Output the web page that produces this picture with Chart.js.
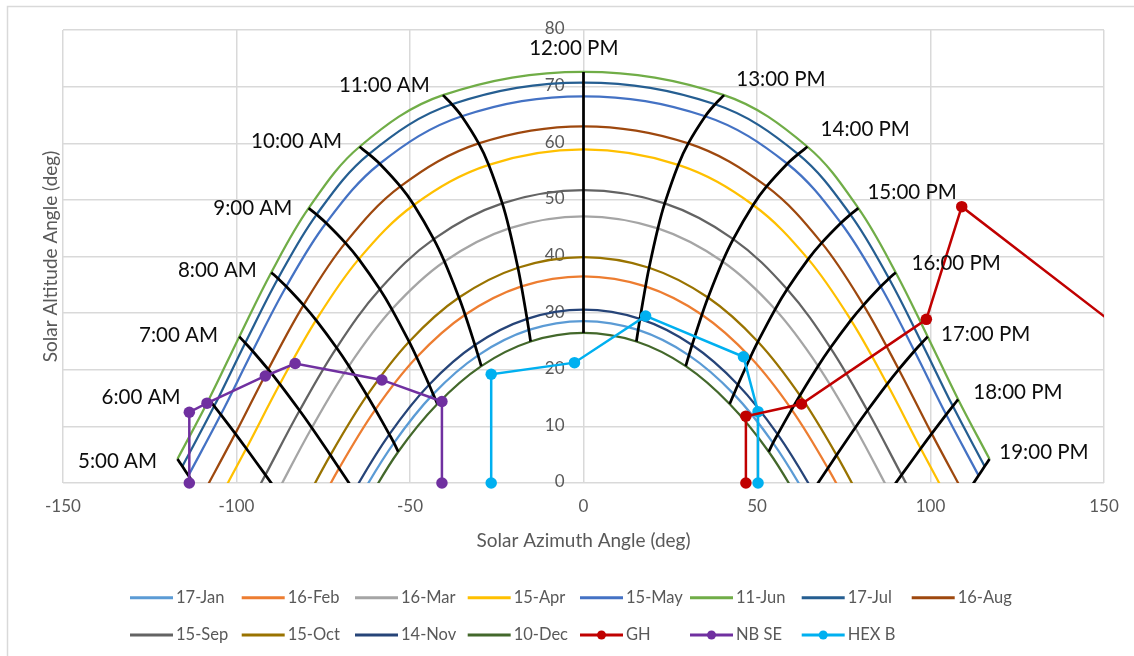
<!DOCTYPE html>
<html>
<head>
<meta charset="utf-8">
<title>Sun path diagram</title>
<script src="https://cdn.jsdelivr.net/npm/chart.js@4.4.1/dist/chart.umd.min.js"></script>
<style>
  html, body { margin: 0; padding: 0; background: #ffffff; }
  canvas { display: block; }
</style>
</head>
<body>
<canvas id="sunpath" width="1134" height="656"></canvas>
<script>
// Sun path: solar altitude vs azimuth for one characteristic day per month,
// hourly points from 5:00 to 19:00 (solar time), plus three obstruction profiles.

const dayNames  = ['17-Jan', '16-Feb', '16-Mar', '15-Apr', '15-May', '11-Jun',
                   '17-Jul', '16-Aug', '15-Sep', '15-Oct', '14-Nov', '10-Dec'];
const dayColors = ['#5B9BD5', '#ED7D31', '#A5A5A5', '#FFC000', '#4472C4', '#70AD47',
                   '#255E91', '#9E480E', '#636363', '#997300', '#264478', '#43682B'];

const hourNames = ['5:00 AM', '6:00 AM', '7:00 AM', '8:00 AM', '9:00 AM', '10:00 AM', '11:00 AM',
                   '12:00 PM', '13:00 PM', '14:00 PM', '15:00 PM', '16:00 PM', '17:00 PM',
                   '18:00 PM', '19:00 PM'];

// Azimuth (deg) and altitude (deg) at each hour 5:00 ... 19:00
const azJan  = [-82.78, -73.81, -64.61, -54.62, -43.33, -30.38, -15.75, 0, 15.75, 30.38, 43.33, 54.62, 64.61, 73.81, 82.78];
const altJan = [-24.55, -13.40, -2.74, 7.09, 15.70, 22.55, 27.03, 28.6, 27.03, 22.55, 15.70, 7.09, -2.74, -13.40, -24.55];
const azFeb  = [-89.56, -80.04, -70.42, -59.99, -48.09, -34.12, -17.87, 0, 17.87, 34.12, 48.09, 59.99, 70.42, 80.04, 89.56];
const altFeb = [-19.75, -8.40, 2.62, 12.97, 22.20, 29.71, 34.72, 36.5, 34.72, 29.71, 22.20, 12.97, 2.62, -8.40, -19.75];
const azMar  = [-98.03, -88.17, -78.30, -67.62, -55.22, -40.07, -21.44, 0, 21.44, 40.07, 55.22, 67.62, 78.30, 88.17, 98.03];
const altMar = [-12.93, -1.56, 9.76, 20.65, 30.67, 39.11, 44.96, 47.1, 44.96, 39.11, 30.67, 20.65, 9.76, -1.56, -12.93];
const azApr  = [-106.93, -97.18, -87.50, -77.07, -64.76, -48.88, -27.30, 0, 27.30, 48.88, 64.76, 77.07, 87.50, 97.18, 106.93];
const altApr = [-5.05, 6.09, 17.47, 28.76, 39.54, 49.09, 56.17, 58.9, 56.17, 49.09, 39.54, 28.76, 17.47, 6.09, -5.05];
const azMay  = [-113.85, -104.51, -95.37, -85.65, -74.18, -58.74, -35.09, 0, 35.09, 58.74, 74.18, 85.65, 95.37, 104.51, 113.85];
const altMay = [1.32, 12.08, 23.31, 34.70, 45.92, 56.38, 64.77, 68.3, 64.77, 56.38, 45.92, 34.70, 23.31, 12.08, 1.32];
const azJun  = [-117.01, -107.97, -99.19, -89.97, -79.20, -64.54, -40.51, 0, 40.51, 64.54, 79.20, 89.97, 99.19, 107.97, 117.01];
const altJun = [4.23, 14.76, 25.84, 37.19, 48.54, 59.38, 68.50, 72.6, 68.50, 59.38, 48.54, 37.19, 25.84, 14.76, 4.23];
const azJul  = [-115.61, -106.43, -97.48, -88.03, -76.92, -61.85, -37.91, 0, 37.91, 61.85, 76.92, 88.03, 97.48, 106.43, 115.61];
const altJul = [2.94, 13.58, 24.73, 36.11, 47.41, 58.08, 66.88, 70.7, 66.88, 58.08, 47.41, 36.11, 24.73, 13.58, 2.94];
const azAug  = [-109.95, -100.35, -90.86, -80.68, -68.63, -52.77, -30.20, 0, 30.20, 52.77, 68.63, 80.68, 90.86, 100.35, 109.95];
const altAug = [-2.28, 8.72, 20.06, 31.42, 42.41, 52.37, 59.98, 63.0, 59.98, 52.37, 42.41, 31.42, 20.06, 8.72, -2.28];
const azSep  = [-101.54, -91.67, -81.82, -71.16, -58.69, -43.16, -23.40, 0, 23.40, 43.16, 58.69, 71.16, 81.82, 91.67, 101.54];
const altSep = [-9.89, 1.43, 12.80, 23.88, 34.21, 43.08, 49.37, 51.7, 49.37, 43.08, 34.21, 23.88, 12.80, 1.43, -9.89];
const azOct  = [-92.34, -82.67, -72.93, -62.37, -50.26, -35.89, -18.90, 0, 18.90, 35.89, 50.26, 62.37, 72.93, 82.67, 92.34];
const altOct = [-17.60, -6.22, 4.92, 15.46, 24.95, 32.75, 38.02, 39.9, 38.02, 32.75, 24.95, 15.46, 4.92, -6.22, -17.60];
const azNov  = [-84.54, -75.41, -66.08, -55.96, -44.50, -31.29, -16.26, 0, 16.26, 31.29, 44.50, 55.96, 66.08, 75.41, 84.54];
const altNov = [-23.37, -12.14, -1.39, 8.59, 17.36, 24.37, 28.98, 30.6, 28.98, 24.37, 17.36, 8.59, -1.39, -12.14, -23.37];
const azDec  = [-80.90, -72.11, -63.06, -53.39, -42.12, -29.46, -15.24, 0, 15.24, 29.46, 42.12, 53.39, 63.06, 72.11, 80.90];
const altDec = [-25.78, -14.70, -4.16, 5.52, 13.96, 20.64, 24.98, 26.5, 24.98, 20.64, 13.96, 5.52, -4.16, -14.70, -25.78];

const dayAz  = [azJan, azFeb, azMar, azApr, azMay, azJun, azJul, azAug, azSep, azOct, azNov, azDec];
const dayAlt = [altJan, altFeb, altMar, altApr, altMay, altJun, altJul, altAug, altSep, altOct, altNov, altDec];

// Days from the highest to the lowest path, used to join the hour lines
const hourLineDayOrder = [5, 6, 4, 7, 3, 8, 2, 9, 1, 10, 0, 11];

// Obstruction profiles (azimuth, altitude)
const ghAz   = [46.8, 46.8, 62.8, 98.8, 109.0, 180.0];
const ghAlt  = [0, 11.8, 13.95, 28.9, 48.8, 15.3];
const nbseAz  = [-113.6, -113.6, -108.5, -91.7, -83.1, -58.1, -40.8, -40.8];
const nbseAlt = [0, 12.5, 14.1, 18.9, 21.1, 18.2, 14.4, 0];
const hexbAz  = [-26.6, -26.6, -2.6, 17.9, 46.1, 50.3, 50.3];
const hexbAlt = [0, 19.2, 21.25, 29.5, 22.3, 12.6, 0];

// Where each hour name is written (azimuth, altitude of the text centre)
const hourLabelAz  = [-134.3, -127.5, -116.7, -105.5, -95.3, -82.7, -57.4, -2.8, 56.9, 81.2, 94.7, 107.4, 115.9, 125.2, 132.7];
const hourLabelAlt = [3.9, 15.1, 26.0, 37.6, 48.5, 60.4, 70.3, 76.8, 71.2, 62.5, 51.4, 38.7, 26.3, 16.0, 5.35];

const toPoints = (xs, ys) => xs.map((x, i) => ({ x: x, y: ys[i] }));

const FONT = 'Lato, "Liberation Sans", Arial, sans-serif';
const GREY_TEXT = '#595959';
const GRID = '#D9D9D9';

const datasets = [];

dayNames.forEach((name, d) => {
  datasets.push({
    label: name,
    data: toPoints(dayAz[d], dayAlt[d]),
    showLine: true,
    borderColor: dayColors[d],
    backgroundColor: dayColors[d],
    borderWidth: 2.25,
    pointRadius: 0,
    tension: 0.36,
    clip: 0,
    order: 3,
    legendItem: true
  });
});

const profiles = [
  { label: 'GH',    xs: ghAz,   ys: ghAlt,   color: '#C00000' },
  { label: 'NB SE', xs: nbseAz, ys: nbseAlt, color: '#7030A0' },
  { label: 'HEX B', xs: hexbAz, ys: hexbAlt, color: '#00B0F0' }
];
profiles.forEach(p => {
  datasets.push({
    label: p.label,
    data: toPoints(p.xs, p.ys),
    showLine: true,
    borderColor: p.color,
    backgroundColor: p.color,
    borderWidth: 2.5,
    pointRadius: 5.75,
    pointBorderWidth: 0,
    pointStyle: 'circle',
    tension: 0,
    clip: { left: 10, top: 10, right: 0, bottom: 10 },
    order: 1,
    legendItem: true,
    withMarker: true
  });
});

hourNames.forEach((name, h) => {
  const xs = hourLineDayOrder.map(d => dayAz[d][h]);
  const ys = hourLineDayOrder.map(d => dayAlt[d][h]);
  datasets.push({
    label: name,
    data: toPoints(xs, ys),
    showLine: true,
    borderColor: '#000000',
    backgroundColor: '#000000',
    borderWidth: 2.75,
    pointRadius: 0,
    tension: 0.36,
    clip: 0,
    order: 2,
    legendItem: false
  });
});

// White page with the light outer frame
const framePlugin = {
  id: 'frame',
  beforeDraw(chart) {
    const ctx = chart.ctx;
    ctx.save();
    ctx.fillStyle = '#ffffff';
    ctx.fillRect(0, 0, chart.width, chart.height);
    ctx.strokeStyle = GRID;
    ctx.lineWidth = 1.5;
    ctx.strokeRect(7.5, 6.5, chart.width + 10, chart.height + 10);
    ctx.restore();
  }
};

// Altitude tick labels, written just left of the vertical axis that crosses at azimuth 0
const yTickPlugin = {
  id: 'yTickLabels',
  beforeDatasetsDraw(chart) {
    const { ctx, scales: { x, y } } = chart;
    const right = x.getPixelForValue(0) - 19;
    ctx.save();
    ctx.font = '17px ' + FONT;
    ctx.fillStyle = GREY_TEXT;
    ctx.textAlign = 'right';
    ctx.textBaseline = 'middle';
    y.ticks.forEach(t => {
      ctx.fillText(String(t.value), right, y.getPixelForValue(t.value) - 1);
    });
    ctx.restore();
  }
};

// Hour names beside the hour lines
const hourLabelPlugin = {
  id: 'hourLabels',
  afterDatasetsDraw(chart) {
    const { ctx, scales: { x, y } } = chart;
    ctx.save();
    ctx.font = '20.5px ' + FONT;
    ctx.fillStyle = '#0D0D0D';
    ctx.textAlign = 'center';
    ctx.textBaseline = 'middle';
    hourNames.forEach((name, i) => {
      ctx.fillText(name, x.getPixelForValue(hourLabelAz[i]), y.getPixelForValue(hourLabelAlt[i]));
    });
    ctx.restore();
  }
};

// Vertical axis title, kept at the left edge of the plot
const yTitlePlugin = {
  id: 'yTitle',
  afterDraw(chart) {
    const { ctx, chartArea } = chart;
    ctx.save();
    ctx.translate(chartArea.left - 12, (chartArea.top + chartArea.bottom) / 2);
    ctx.rotate(-Math.PI / 2);
    ctx.font = '19px ' + FONT;
    ctx.fillStyle = GREY_TEXT;
    ctx.textAlign = 'center';
    ctx.textBaseline = 'middle';
    ctx.fillText('Solar Altitude Angle (deg)', 0, 0);
    ctx.restore();
  }
};

// Two-row legend laid out in fixed columns
const legendCols = [130, 241.7, 355, 467.7, 580, 690, 801.7, 911.7];
const legendRows = [597.7, 635];
const legendPlugin = {
  id: 'gridLegend',
  afterDraw(chart) {
    const ctx = chart.ctx;
    const items = chart.data.datasets.filter(ds => ds.legendItem);
    ctx.save();
    ctx.font = '16.5px ' + FONT;
    ctx.textAlign = 'left';
    ctx.textBaseline = 'middle';
    items.forEach((ds, k) => {
      const x0 = legendCols[k % legendCols.length];
      const y0 = legendRows[Math.floor(k / legendCols.length)];
      ctx.strokeStyle = ds.borderColor;
      ctx.lineWidth = 3;
      ctx.lineCap = 'butt';
      ctx.beginPath();
      ctx.moveTo(x0, y0);
      ctx.lineTo(x0 + 43, y0);
      ctx.stroke();
      if (ds.withMarker) {
        ctx.fillStyle = ds.backgroundColor;
        ctx.beginPath();
        ctx.arc(x0 + 21.5, y0, 4.5, 0, Math.PI * 2);
        ctx.fill();
      }
      ctx.fillStyle = GREY_TEXT;
      ctx.fillText(ds.label, x0 + 46, y0);
    });
    ctx.restore();
  }
};

new Chart(document.getElementById('sunpath'), {
  type: 'scatter',
  data: { datasets: datasets },
  options: {
    responsive: false,
    animation: false,
    devicePixelRatio: 1,
    events: [],
    layout: { padding: { left: 63, right: 30, top: 30, bottom: 104 } },
    plugins: {
      legend: { display: false },
      tooltip: { enabled: false },
      title: { display: false }
    },
    elements: { line: { capBezierPoints: false } },
    scales: {
      x: {
        type: 'linear',
        position: 'bottom',
        min: -150,
        max: 150,
        ticks: { stepSize: 50, color: GREY_TEXT, font: { family: FONT, size: 17 }, padding: 13, maxRotation: 0 },
        grid: { color: GRID, lineWidth: 1.5, drawTicks: false },
        border: { display: false },
        title: {
          display: true,
          text: 'Solar Azimuth Angle (deg)',
          color: GREY_TEXT,
          font: { family: FONT, size: 19 },
          padding: 0
        },
        afterFit(scale) { scale.height = 69; }
      },
      y: {
        type: 'linear',
        position: { x: 0 },
        min: 0,
        max: 80,
        ticks: { stepSize: 10, display: false },
        grid: { color: GRID, lineWidth: 1.5, drawTicks: false },
        border: { display: false }
      }
    }
  },
  plugins: [framePlugin, yTickPlugin, hourLabelPlugin, yTitlePlugin, legendPlugin]
});
</script>
</body>
</html>
